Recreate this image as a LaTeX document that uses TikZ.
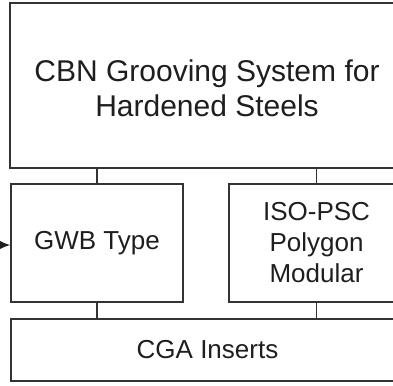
\documentclass[tikz,border=0pt]{standalone}
\usepackage{fontspec}
\setmainfont{Liberation Sans}
\usetikzlibrary{arrows.meta}
\definecolor{boxline}{HTML}{333333}
\definecolor{textdark}{HTML}{1E1E1E}
\tikzset{
  >=Latex,
  block/.style={
    rectangle, draw=boxline, line width=1.4pt, align=center,
    text=textdark, inner sep=0pt
  },
  bigtext/.style={font=\fontsize{30}{35}\selectfont},
  midtext/.style={font=\fontsize{26}{31}\selectfont},
  link/.style={draw=boxline, line width=1.4pt},
  arrow/.style={-{Latex[length=11pt,width=9pt]}, line width=1.4pt, draw=textdark}
}
\begin{document}
\begin{tikzpicture}[x=1pt,y=-1pt]
\useasboundingbox (0,0) rectangle (393,385);
\clip (0,0) rectangle (393,385);
\node[block, bigtext, minimum width=394pt, minimum height=165pt] (sys) at (207,85.5) {\rule{0pt}{28pt}CBN Grooving System for\\Hardened Steels};
\node[block, midtext, minimum width=172pt, minimum height=118pt] (gwb) at (97,243) {GWB Type};
\node[block, midtext, minimum width=175pt, minimum height=118pt] (iso) at (316.5,243) {ISO-PSC\\Polygon\\Modular};
\node[block, midtext, minimum width=393pt, minimum height=62pt] (cga) at (207.5,350) {CGA Inserts};
\coordinate (feed) at (-30,245);
\draw[link] (sys.south -| gwb.north) -- (gwb.north);
\draw[link] (sys.south -| iso.north) -- (iso.north);
\draw[link] (gwb.south) -- (gwb.south |- cga.north);
\draw[link] (iso.south) -- (iso.south |- cga.north);
\draw[arrow] (feed) -- (feed -| gwb.west);
\end{tikzpicture}
\end{document}
